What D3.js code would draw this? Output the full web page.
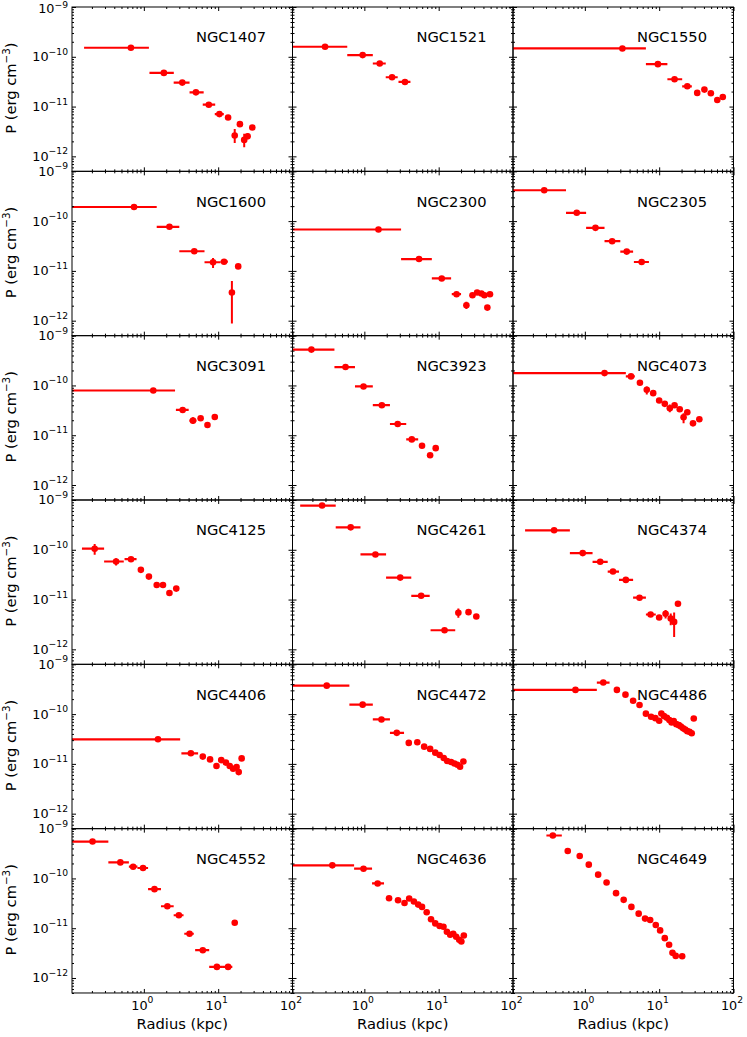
<!DOCTYPE html>
<html><head><meta charset="utf-8">
<script src="https://cdn.jsdelivr.net/npm/d3@7"></script>
<style>body{margin:0;background:#fff} text{font-family:"DejaVu Sans",sans-serif;fill:#000}</style>
</head><body><svg id="c" width="747" height="1037"></svg>
<script>
const galaxies = ["NGC1407","NGC1521","NGC1550","NGC1600","NGC2300","NGC2305","NGC3091","NGC3923","NGC4073","NGC4125","NGC4261","NGC4374","NGC4406","NGC4472","NGC4486","NGC4552","NGC4636","NGC4649"];

// radius (kpc) of each point
const radius = [
 [0.67,1.86,3.29,5.02,7.48,10.4,13.6,16.7,19.6,22.4,24.9,28.8],
 [0.296,0.949,1.61,2.36,3.52],
 [3.2,9.61,16.1,23.9,32.5,40.6,49.6,60.5,71.8],
 [0.738,2.21,4.77,8.53,12.0,15.3,18.6],
 [1.55,5.44,11.0,17.4,23.6,28.5,32.9,37.6,41.2,45.2,49.0],
 [0.284,0.778,1.39,2.33,3.66,5.81],
 [1.34,3.33,4.58,5.81,7.18,9.0],
 [0.194,0.558,0.975,1.72,2.81,4.35,5.97,7.67,9.12],
 [1.84,4.18,5.51,6.81,8.31,10.0,11.9,13.9,16.1,18.9,21.3,23.9,28.5,34.7],
 [0.218,0.423,0.672,0.912,1.17,1.49,1.81,2.21,2.73],
 [0.27,0.655,1.41,3.04,5.81,12.0,18.4,25.2,32.1],
 [0.386,0.936,1.61,2.39,3.56,5.44,7.67,10.0,12.2,14.3,15.9,17.9],
 [1.55,4.29,6.21,7.78,9.49,11.0,12.7,14.3,15.9,17.7,18.9,20.7],
 [0.312,0.949,1.70,2.73,3.96,5.16,6.38,7.67,9.0,10.3,11.7,13.0,14.7,16.3,17.9,19.4,21.5],
 [0.748,1.77,2.7,3.52,4.46,5.44,6.63,7.78,8.88,10.0,10.7,11.6,12.7,13.7,14.7,15.7,17.0,18.4,19.6,21.0,22.4,23.9,25.6,27.4,29.2],
 [0.204,0.483,0.718,0.975,1.39,2.07,2.96,4.12,6.21,9.61,13.6,16.7],
 [0.371,0.975,1.51,2.15,2.84,3.47,4.01,4.64,5.3,5.97,6.9,7.89,9.0,10.3,11.6,12.9,14.3,15.7,17.2,18.9,20.2,21.8],
 [0.371,0.589,0.853,1.13,1.51,1.96,2.63,3.33,4.23,5.3,6.46,7.57,9.0,10.3,11.9,13.6,15.1,16.7,20.4]
];

// pressure (erg cm^-3) of each point
const pressure = [
 [1.52e-10,4.75e-11,3.03e-11,1.93e-11,1.09e-11,7.05e-12,6.04e-12,2.62e-12,4.43e-12,2.14e-12,2.53e-12,3.79e-12],
 [1.59e-10,1.08e-10,7.33e-11,3.88e-11,3.12e-11],
 [1.47e-10,7.11e-11,3.54e-11,2.55e-11,1.88e-11,2.19e-11,1.85e-11,1.35e-11,1.56e-11],
 [1.92e-10,7.69e-11,2.48e-11,1.49e-11,1.53e-11,3.68e-12,1.23e-11],
 [6.79e-11,1.73e-11,7.05e-12,3.4e-12,2.04e-12,3.25e-12,3.68e-12,3.51e-12,3.25e-12,1.83e-12,3.4e-12],
 [4.17e-10,1.47e-10,7.33e-11,3.95e-11,2.44e-11,1.51e-11],
 [7.92e-11,3.22e-11,1.96e-11,2.19e-11,1.6e-11,2.33e-11],
 [5.25e-10,2.34e-10,9.55e-11,4.01e-11,1.68e-11,8.24e-12,6.14e-12,3.97e-12,5.5e-12],
 [1.77e-10,1.52e-10,1.13e-10,8.18e-11,7.0e-11,4.98e-11,4.27e-11,3.48e-11,4.01e-11,3.33e-11,2.29e-11,2.89e-11,1.73e-11,2.09e-11],
 [1.05e-10,5.81e-11,6.47e-11,3.95e-11,2.89e-11,1.96e-11,1.96e-11,1.35e-11,1.66e-11],
 [7.74e-10,2.82e-10,8.05e-11,2.76e-11,1.19e-11,2.42e-12,5.42e-12,5.58e-12,4.57e-12],
 [2.46e-10,8.57e-11,5.73e-11,3.65e-11,2.48e-11,1.09e-11,5.01e-12,4.36e-12,5.18e-12,4.17e-12,3.56e-12,8.24e-12],
 [3.12e-11,1.63e-11,1.4e-11,1.23e-11,9.04e-12,1.19e-11,1.06e-11,9.04e-12,7.98e-12,8.63e-12,6.84e-12,1.29e-11],
 [3.73e-10,1.55e-10,7.8e-11,4.2e-11,2.64e-11,2.72e-11,2.22e-11,2.0e-11,1.68e-11,1.51e-11,1.31e-11,1.14e-11,1.09e-11,1.02e-11,9.62e-12,8.77e-12,1.12e-11],
 [3.06e-10,4.3e-10,3.06e-10,2.46e-10,1.86e-10,1.52e-10,1.02e-10,8.84e-11,8.3e-11,7.33e-11,1.03e-10,9.12e-11,8.43e-11,7.57e-11,6.79e-11,7.22e-11,6.28e-11,6.0e-11,5.64e-11,5.21e-11,4.9e-11,4.54e-11,4.4e-11,4.13e-11,8.17e-11],
 [5.51e-10,2.1e-10,1.72e-10,1.62e-10,6.09e-11,2.76e-11,1.82e-11,7.74e-12,3.62e-12,1.67e-12,1.67e-12,1.29e-11],
 [1.83e-10,1.57e-10,7.92e-11,4.01e-11,3.65e-11,3.22e-11,3.95e-11,3.43e-11,2.98e-11,2.68e-11,2.09e-11,1.51e-11,1.25e-11,1.11e-11,1.07e-11,8.49e-12,7.4e-12,7.74e-12,6.73e-12,5.86e-12,5.42e-12,7.16e-12],
 [7.28e-10,3.56e-10,2.82e-10,1.89e-10,1.19e-10,8.3e-11,5.06e-11,3.71e-11,2.68e-11,1.96e-11,1.56e-11,1.46e-11,1.16e-11,9.04e-12,6.32e-12,4.65e-12,3.2e-12,2.78e-12,2.74e-12]
];

// horizontal error bars: [point index, r low, r high]
const radiusBars = [
 [[0,0.157,1.17],[1,1.19,2.53],[2,2.52,4.12],[3,4.12,6.38],[4,6.2,9.12],[5,9.0,11.9]],
 [[0,0.1,0.589],[1,0.589,1.30],[2,1.30,1.94],[3,1.94,2.81],[4,2.88,4.17]],
 [[0,0.1,6.63],[1,6.63,12.9],[2,12.9,20.4],[3,20.4,27.5]],
 [[0,0.1,1.49],[1,1.49,3.0],[2,3.0,6.55],[3,6.55,10.8],[4,10.8,13.5]],
 [[0,0.1,3.12],[1,3.12,8.09],[2,8.09,14.7],[3,15.0,20.0]],
 [[0,0.1,0.558],[1,0.558,1.04],[2,1.04,1.84],[3,1.84,3.0],[4,3.0,4.46],[5,4.57,7.28]],
 [[0,0.1,2.63],[1,2.7,4.01],[2,4.1,5.1]],
 [[0,0.1,0.396],[1,0.396,0.748],[2,0.748,1.30],[3,1.30,2.21],[4,2.21,3.66],[5,3.66,5.3]],
 [[0,0.1,3.56],[1,3.56,4.7]],
 [[0,0.147,0.292],[1,0.292,0.537],[2,0.55,0.798]],
 [[0,0.137,0.412],[1,0.412,0.887],[2,0.887,1.96],[3,1.96,4.28],[4,4.28,7.57],[5,7.78,16.7]],
 [[0,0.157,0.629],[1,0.629,1.27],[2,1.27,2.03],[3,2.03,2.88],[4,2.88,4.46],[5,4.46,6.63],[6,6.63,9.0]],
 [[0,0.1,3.08],[1,3.2,5.37]],
 [[0,0.1,0.629],[1,0.629,1.30],[2,1.30,2.21],[3,2.21,3.42]],
 [[0,0.1,1.45],[1,1.45,2.15]],
 [[0,0.1,0.333],[1,0.333,0.629],[2,0.629,0.82],[3,0.82,1.14],[4,1.14,1.70],[5,1.70,2.52],[6,2.52,3.42],[7,3.5,4.7],[8,4.9,7.57],[9,7.57,11.6],[10,11.6,15.5]],
 [[0,0.1,0.728],[1,0.728,1.27],[2,1.27,1.84]],
 [[0,0.304,0.49]]
];

// vertical error bars: [point index, P low, P high]
const pressureBars = [
 [[7,1.86e-12,3.56e-12],[9,1.52e-12,2.83e-12],[10,2.2e-12,2.9e-12]],
 [],
 [],
 [[3,1.14e-11,1.82e-11],[5,8.8e-13,6.3e-12]],
 [[4,1.72e-12,2.4e-12],[9,1.62e-12,2.05e-12]],
 [],
 [[2,1.7e-11,2.3e-11]],
 [],
 [[3,6.58e-11,9.55e-11],[7,2.89e-11,4.13e-11],[10,1.73e-11,2.76e-11]],
 [[0,7.92e-11,1.3e-10],[1,4.83e-11,6.79e-11]],
 [[6,4.3e-12,6.64e-12]],
 [[8,4.17e-12,6.14e-12],[9,3.05e-12,5.25e-12],[10,1.77e-12,5.5e-12]],
 [],[],[],[],[],[]
];

const xMajor = [1,10,100];
const xMajorExp = ["0","1","2"];
const yMajor = [1e-9,1e-10,1e-11,1e-12];
const yMajorExp = ["\u22129","\u221210","\u221211","\u221212"];
const xDomain = [0.108,100];
const yDomain = [5e-13,1e-9];

const svg = d3.select("#c");
const L = 72, T = 7, PW = 220.5, PH = 164.33, NC = 3;
const x = d3.scaleLog().domain(xDomain).range([0,PW]);
const y = d3.scaleLog().domain(yDomain).range([PH,0]);

const xMinor = [];
[0.1,1,10].forEach(d=>{for(let k=2;k<=9;k++){const v=d*k; if(v>=xDomain[0]&&v<=xDomain[1]) xMinor.push(v);}});
const yMinor = [];
[1e-13,1e-12,1e-11,1e-10].forEach(d=>{for(let k=2;k<=9;k++){const v=d*k; if(v>=yDomain[0]*0.999&&v<=yDomain[1]) yMinor.push(v);}});

const defs = svg.append("defs");
defs.append("clipPath").attr("id","pc").append("rect").attr("x",0).attr("y",0).attr("width",PW).attr("height",PH);

const red = "#ff0000";

galaxies.forEach((name,gi)=>{
  const c = gi % NC, r = Math.floor(gi/NC);
  const g = svg.append("g").attr("transform",`translate(${L+c*PW},${T+r*PH})`);
  const dg = g.append("g").attr("clip-path","url(#pc)");
  const P = pressure[gi], R = radius[gi];
  dg.selectAll("line.h").data(radiusBars[gi]).enter().append("line")
    .attr("x1",d=>x(d[1])).attr("x2",d=>x(d[2]))
    .attr("y1",d=>y(P[d[0]])).attr("y2",d=>y(P[d[0]]))
    .attr("stroke",red).attr("stroke-width",2.2);
  dg.selectAll("line.v").data(pressureBars[gi]).enter().append("line")
    .attr("x1",d=>x(R[d[0]])).attr("x2",d=>x(R[d[0]]))
    .attr("y1",d=>y(d[1])).attr("y2",d=>y(d[2]))
    .attr("stroke",red).attr("stroke-width",2);
  dg.selectAll("circle").data(R.map((v,i)=>[v,P[i]])).enter().append("circle")
    .attr("cx",d=>x(d[0])).attr("cy",d=>y(d[1])).attr("r",3.3).attr("fill",red);

  // axes with inward ticks on all four sides (major and minor)
  const sides = [
    [()=>d3.axisBottom(x),`translate(0,${PH})`,xMajor,xMinor],
    [()=>d3.axisTop(x),`translate(0,0)`,xMajor,xMinor],
    [()=>d3.axisLeft(y),`translate(0,0)`,yMajor,yMinor],
    [()=>d3.axisRight(y),`translate(${PW},0)`,yMajor,yMinor]
  ];
  sides.forEach(([mk,tr,maj,min])=>{
    const a1 = g.append("g").attr("transform",tr).call(mk().tickValues(maj).tickSize(-4).tickFormat(""));
    a1.select(".domain").remove();
    const a2 = g.append("g").attr("transform",tr).call(mk().tickValues(min).tickSize(-2).tickFormat(""));
    a2.select(".domain").remove();
  });
  g.selectAll(".tick line").attr("stroke","#000").attr("stroke-width",1);

  g.append("rect").attr("x",0).attr("y",0).attr("width",PW).attr("height",PH)
    .attr("fill","none").attr("stroke","#000").attr("stroke-width",1);

  g.append("text").attr("x",124).attr("y",35.3).attr("font-size",14.7).text(name);

  if (c === 0) {
    yMajor.forEach((v,i)=>{
      const topEdge = (r === 0 && i === 0);
      const t = g.append("text").attr("x",-4).attr("y",y(v)+4.5+(topEdge?1.5:0)).attr("text-anchor","end").attr("font-size",12.8);
      t.append("tspan").text("10");
      t.append("tspan").attr("dy",topEdge?-5:-6.5).attr("font-size",9.2).text(yMajorExp[i]);
    });
    const yl = svg.append("text").attr("transform",`translate(15.5,${T+r*PH+PH/2-1}) rotate(-90)`)
      .attr("text-anchor","middle").attr("font-size",14.7);
    yl.append("tspan").text("P (erg cm");
    yl.append("tspan").attr("dy",-6).attr("font-size",10.3).text("\u22123");
    yl.append("tspan").attr("dy",6).text(")");
  }
  if (r === Math.floor((galaxies.length-1)/NC)) {
    xMajor.forEach((v,i)=>{
      const t = g.append("text").attr("x",x(v)-1.5).attr("y",PH+17).attr("text-anchor","middle").attr("font-size",12.8);
      t.append("tspan").text("10");
      t.append("tspan").attr("dy",-7).attr("font-size",9.2).text(xMajorExp[i]);
    });
    g.append("text").attr("x",PW/2).attr("y",PH+36).attr("text-anchor","middle").attr("font-size",14.7).text("Radius (kpc)");
  }
});
</script></body></html>
